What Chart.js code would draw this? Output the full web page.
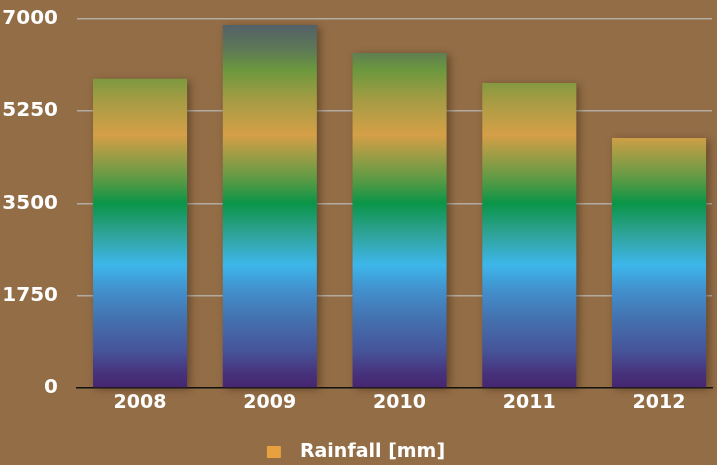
<!DOCTYPE html>
<html>
<head>
<meta charset="utf-8">
<script src="https://cdn.jsdelivr.net/npm/chart.js@4.4.1/dist/chart.umd.min.js"></script>
<style>
    html, body { margin: 0; padding: 0; background: #936d46; }
    #wrap { width: 717px; height: 465px; }
</style>
</head>
<body>
<div id="wrap"><canvas id="rain-chart"></canvas></div>
<script>
const years = [2008, 2009, 2010, 2011, 2012];
const rainfall = [5860, 6880, 6350, 5780, 4740];
const yTicks = [0, 1750, 3500, 5250, 7000];
const seriesLabel = "Rainfall [mm]";

const FONT = "'DejaVu Sans', sans-serif";

// gradient stops, bottom (0) to top (1) of the plot area
const gradientStops = [
    [0.0, "#45266f"],
    [0.035, "#47307a"],
    [0.103, "#46559a"],
    [0.184, "#4470ae"],
    [0.265, "#4290cc"],
    [0.333, "#3db6ea"],
    [0.422, "#2ea294"],
    [0.5, "#0a9548"],
    [0.563, "#5a9a44"],
    [0.685, "#d59f47"],
    [0.78, "#a59c44"],
    [0.861, "#6c983e"],
    [0.915, "#5d7a55"],
    [1.0, "#525a6e"],
];

let cachedGradient = null;
let cachedKey = "";

function barGradient(context) {
    const { chart } = context;
    const area = chart.chartArea;
    if (!area) {
        return "#4470ae";
    }
    const key = `${area.top}-${area.bottom}`;
    if (!cachedGradient || cachedKey !== key) {
        const g = chart.ctx.createLinearGradient(0, area.bottom, 0, area.top);
        gradientStops.forEach(([stop, color]) => g.addColorStop(stop, color));
        cachedGradient = g;
        cachedKey = key;
    }
    return cachedGradient;
}

const barShadow = {
    id: "barShadow",
    beforeDatasetsDraw(chart) {
        const ctx = chart.ctx;
        ctx.save();
        ctx.shadowColor = "rgba(40, 25, 10, 0.45)";
        ctx.shadowBlur = 8;
        ctx.shadowOffsetX = 3;
        ctx.shadowOffsetY = 2;
    },
    afterDatasetsDraw(chart) {
        chart.ctx.restore();
    },
};

new Chart(document.getElementById("rain-chart"), {
    type: "bar",
    data: {
        datasets: [
            {
                label: seriesLabel,
                data: years.map((year, i) => ({ x: year, y: rainfall[i] })),
                backgroundColor: barGradient,
                borderWidth: 0,
                categoryPercentage: 1,
                barPercentage: 0.725,
                clip: 12,
            },
        ],
    },
    options: {
        responsive: true,
        maintainAspectRatio: false,
        animation: false,
        layout: { padding: { top: 18.7, right: 5, left: 0, bottom: -6.5 } },
        plugins: {
            tooltip: { enabled: false },
            legend: {
                position: "bottom",
                labels: {
                    color: "#ffffff",
                    font: { family: FONT, size: 19, weight: "bold" },
                    boxWidth: 14,
                    boxHeight: 12,
                    padding: 0,
                    generateLabels: (chart) => [
                        {
                            text: "\u2002" + seriesLabel,
                            fillStyle: "#e8a13f",
                            strokeStyle: "rgba(0,0,0,0)",
                            lineWidth: 0,
                            fontColor: "#ffffff",
                            datasetIndex: 0,
                        },
                    ],
                },
            },
        },
        scales: {
            x: {
                type: "linear",
                offset: false,
                min: years[0] - 0.486,
                max: years[0] + 4.408,
                afterFit: (scale) => {
                    scale.height = 54.5;
                    scale.paddingLeft = 0;
                    scale.paddingRight = 0;
                },
                afterBuildTicks: (scale) => {
                    scale.ticks = years.map((v) => ({ value: v }));
                },
                ticks: {
                    color: "#ffffff",
                    font: { family: FONT, size: 19, weight: "bold" },
                    padding: 4,
                    callback: (value) => String(value),
                },
                grid: { display: false, drawTicks: false, offset: false },
                border: { display: true, color: "#111111", width: 1.5 },
            },
            y: {
                min: 0,
                max: 7000,
                afterFit: (scale) => {
                    scale.width = 77;
                    scale.paddingTop = 0;
                    scale.paddingBottom = 0;
                },
                afterBuildTicks: (scale) => {
                    scale.ticks = yTicks.map((v) => ({ value: v }));
                },
                ticks: {
                    color: "#ffffff",
                    font: { family: FONT, size: 20, weight: "bold" },
                    padding: 19,
                    callback: (value) => String(value),
                },
                grid: {
                    color: (ctx) => (ctx.tick && ctx.tick.value === 0 ? "rgba(0,0,0,0)" : "#b3aca3"),
                    lineWidth: 1.5,
                    drawTicks: false,
                },
                border: { display: false },
            },
        },
    },
    plugins: [barShadow],
});
</script>
</body>
</html>
